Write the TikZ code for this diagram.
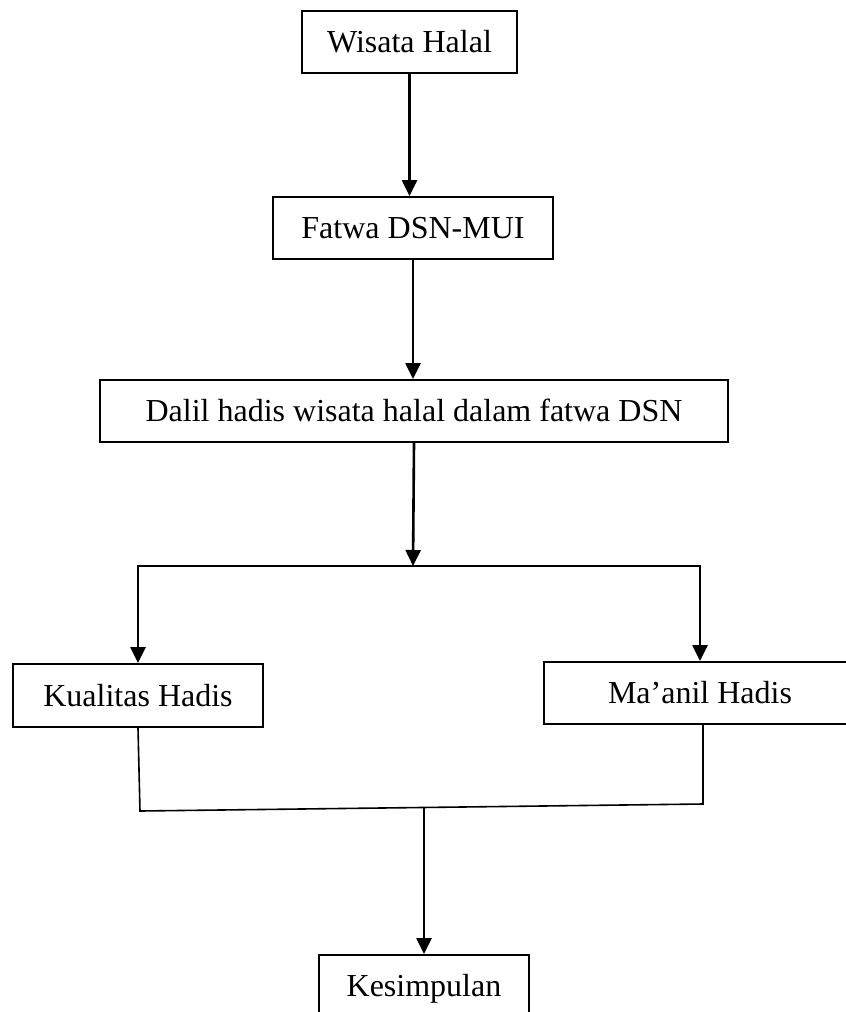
\documentclass[tikz,border=0pt]{standalone}
\usepackage{fontspec}
\setmainfont{Liberation Serif}
\usetikzlibrary{arrows.meta}
\begin{document}
\begin{tikzpicture}[x=1pt,y=-1pt,
  box/.style={draw, line width=2pt, inner sep=0pt, text height=21.5pt, text depth=0pt,
              font=\fontsize{32}{38}\selectfont},
  arr/.style={line width=2.6pt, -{Triangle[length=16pt,width=15pt]}},
  thinline/.style={line width=1.6pt}]
\useasboundingbox (0,0) rectangle (846,1012);
\clip (0,0) rectangle (846,1012);
\node[box, minimum width=215pt, minimum height=62pt] (wh) at (409.5,42) {Wisata Halal};
\node[box, minimum width=280pt, minimum height=62pt] (fd) at (413,228) {Fatwa DSN-MUI};
\node[box, minimum width=628pt, minimum height=62pt] (dal) at (414,411) {Dalil hadis wisata halal dalam fatwa DSN};
\node[box, minimum width=250pt, minimum height=63pt] (kh) at (138,695.5) {Kualitas Hadis};
\node[box, minimum width=312pt, minimum height=62pt] (ma) at (700,693) {Ma’anil Hadis};
\node[box, minimum width=210pt, minimum height=62pt] (ke) at (424,986) {Kesimpulan};
\coordinate (sp) at (413,566);
\coordinate (bl) at (140,811);
\coordinate (br) at (703,804);
\coordinate (jn) at (424,807.5);
\draw[arr] (wh.south) -- (wh.south |- fd.north);
\draw[arr] (fd.south) -- (fd.south |- dal.north);
\draw[arr] (dal.south) -- (sp);
\draw[arr] (sp) -| (kh.north);
\draw[arr] (sp) -| (ma.north);
\draw[thinline] (kh.south) -- (bl) -- (br) -- (br |- ma.south);
\draw[arr] (jn) -- (ke.north);
\end{tikzpicture}
\end{document}
